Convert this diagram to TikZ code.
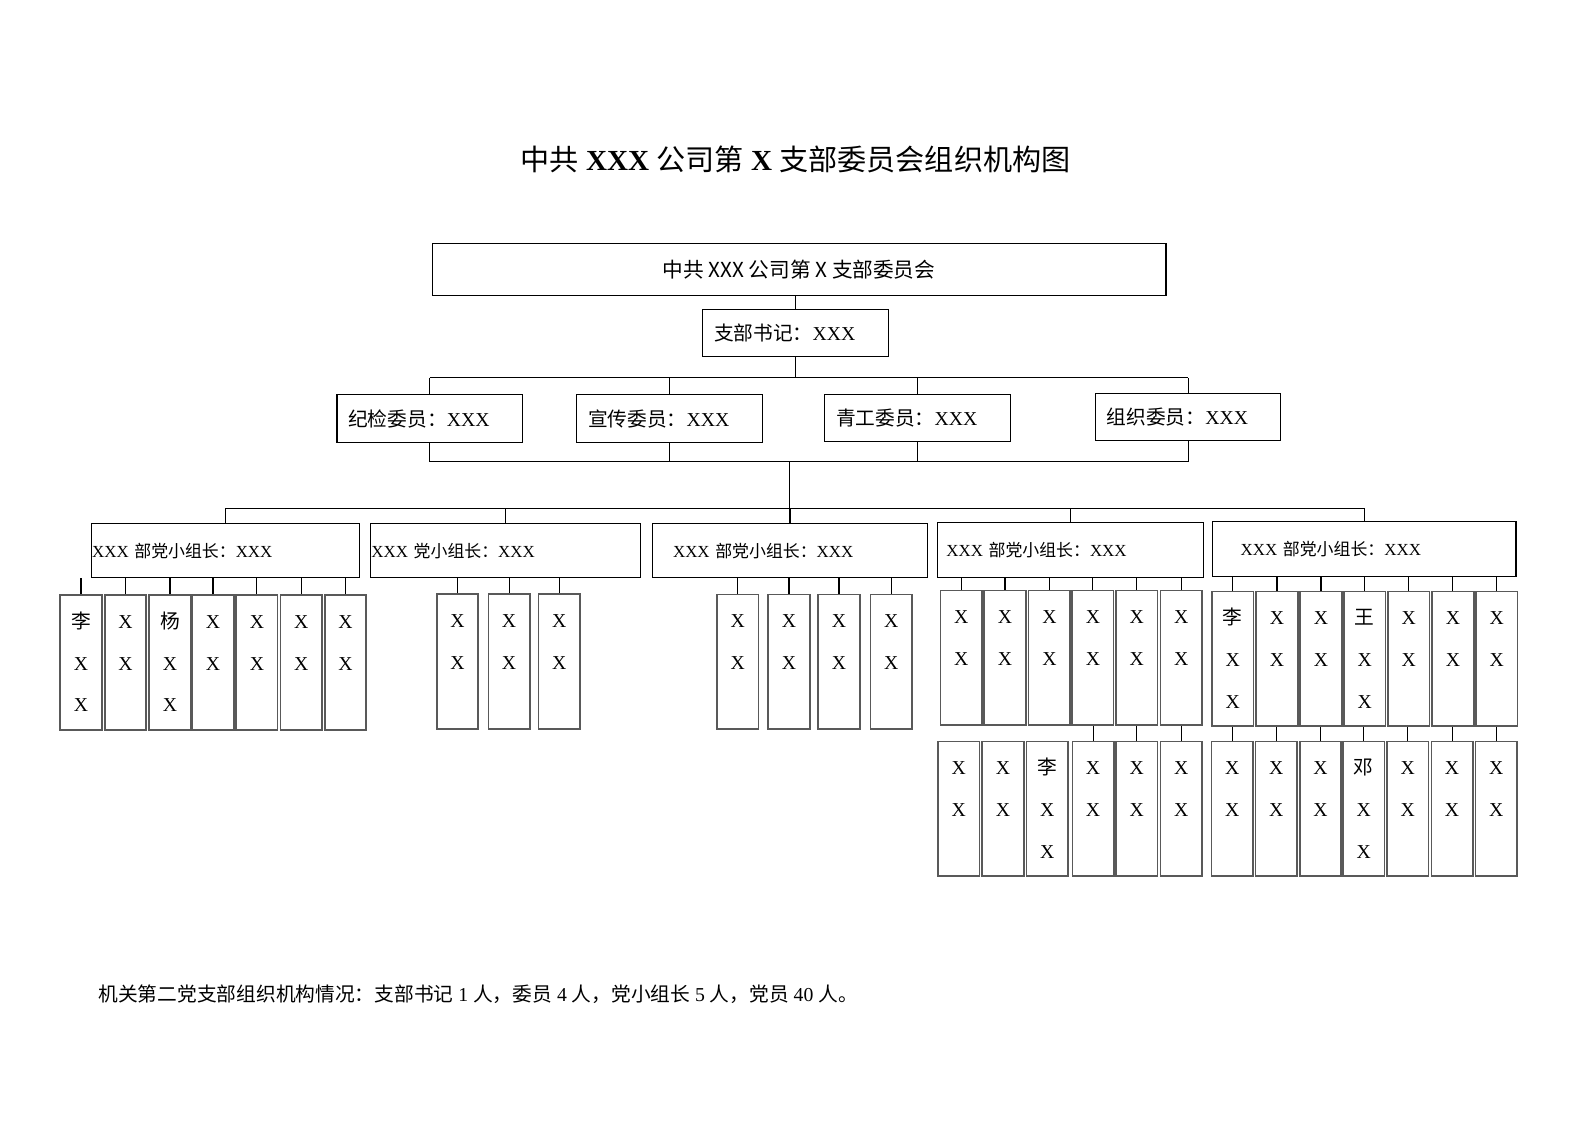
\documentclass[tikz,border=0pt]{standalone}
\usepackage{fontspec}
\setmainfont{Liberation Serif}
\newfontfamily\cjk{Noto Sans CJK SC}
\newcommand{\zh}[1]{{\cjk #1}}
\newcommand{\mtxt}[1]{\parbox[t]{2em}{\centering #1}}
\newlength{\ugrid}
\setlength{\ugrid}{0.5389pt}

\begin{document}
\begin{tikzpicture}[x=\ugrid, y=-\ugrid,
  link/.style={draw=black, line width=0.6pt},
  box/.style={draw=black, line width=0.6pt, inner ysep=0pt},
  post/.style={box, minimum height=47\ugrid, inner xsep=11\ugrid, text width=161\ugrid,
    align=left, font=\fontsize{10.5}{12}\selectfont},
  leader/.style={box, minimum height=54\ugrid, align=left, font=\fontsize{9}{11}\selectfont},
  mem/.style={draw=black!65, line width=0.9pt, minimum width=41\ugrid, minimum height=133\ugrid,
    inner sep=0pt},
  memtxt/.style={anchor=base, inner sep=0pt, font=\fontsize{10.5}{22.3}\selectfont}]
\useasboundingbox (0,0) rectangle (1568,1109);

\node[font=\fontsize{15.5}{18}\selectfont] (title) at (786,158)
  {\zh{中共} \textbf{XXX} \zh{公司第} \textbf{X} \zh{支部委员会组织机构图}};

\node[box, minimum width=725\ugrid, minimum height=51\ugrid, font=\cjk\fontsize{11}{13}\selectfont]
  (party) at (789.5,266.5) {中共 XXX 公司第 X 支部委员会};
\node[post] (sec) at (786,329) {\zh{支部书记：}XXX};

\node[post] (c1) at (424.5,413.5) {\zh{纪检委员：}XXX};
\node[post] (c2) at (661.5,413.5) {\zh{宣传委员：}XXX};
\node[post] (c3) at (906.5,413) {\zh{青工委员：}XXX};
\node[post] (c4) at (1174,412) {\zh{组织委员：}XXX};

\coordinate (up) at (786,373);
\coordinate (down) at (780,456);
\coordinate (low) at (780,502);
\draw[link] (party.south -| sec.north) -- (sec.north);
\draw[link] (sec.south) -- (up);
\draw[link] (c1.north |- up) -- (c4.north |- up);
\draw[link] (c1.south |- down) -- (c4.south |- down);
\foreach \c in {c1,c2,c3,c4}{
  \draw[link] (\c.north) -- (\c.north |- up);
  \draw[link] (\c.south) -- (\c.south |- down);
}
\draw[link] (down) -- (low);

% party groups
\node[leader, inner xsep=1\ugrid, text width=263\ugrid] (la) at (222.5,544) {XXX \zh{部党小组长：}XXX};
\node[leader, inner xsep=1\ugrid, text width=265\ugrid] (lb) at (499.5,544) {XXX \zh{党小组长：}XXX};
\node[leader, inner xsep=20\ugrid, text width=231\ugrid] (lc) at (780.5,544) {XXX \zh{部党小组长：}XXX};
\node[leader, inner xsep=9\ugrid, text width=245\ugrid] (ld) at (1057.5,543.5) {XXX \zh{部党小组长：}XXX};
\node[leader, inner xsep=28\ugrid, text width=244\ugrid] (le) at (1347.8,542.6) {XXX \zh{部党小组长：}XXX};
\draw[link] (la.north |- low) -- (le.north |- low);
\foreach \l in {la,lb,lc,ld,le}
  \draw[link] (\l.north) -- (\l.north |- low);

% members
\foreach \mx/\mt [count=\i] in {80/{\zh{李}\\X\\X},124/{X\\X},168/{\zh{杨}\\X\\X},210.5/{X\\X},
    253.8/{X\\X},297.6/{X\\X},341.4/{X\\X}}{
  \node[mem] (a\i) at (\mx,654.5) {};
  \node[memtxt] (a\i-t) at ([yshift=-33.5\ugrid]a\i.north) {\mtxt{\mt}};
  \draw[link] (a\i.north) -- (a\i.north |- la.south);
}
\foreach \mx/\mt [count=\i] in {452/{X\\X},503/{X\\X},552.5/{X\\X}}{
  \node[mem] (b\i) at (\mx,653.5) {};
  \node[memtxt] (b\i-t) at ([yshift=-33.5\ugrid]b\i.north) {\mtxt{\mt}};
  \draw[link] (b\i.north) -- (b\i.north |- lb.south);
}
\foreach \mx/\mt [count=\i] in {728.8/{X\\X},779.6/{X\\X},828.9/{X\\X},880.5/{X\\X}}{
  \node[mem] (c\i) at (\mx,654) {};
  \node[memtxt] (c\i-t) at ([yshift=-33.5\ugrid]c\i.north) {\mtxt{\mt}};
  \draw[link] (c\i.north) -- (c\i.north |- lc.south);
}
\foreach \mx/\mt [count=\i] in {949.7/{X\\X},993/{X\\X},1036.8/{X\\X},1079.8/{X\\X},1123/{X\\X},1167/{X\\X}}{
  \node[mem] (d\i) at (\mx,650) {};
  \node[memtxt] (d\i-t) at ([yshift=-33.5\ugrid]d\i.north) {\mtxt{\mt}};
  \draw[link] (d\i.north) -- (d\i.north |- ld.south);
}
\foreach \mx/\mt [count=\i] in {947.3/{X\\X},991/{X\\X},1034.7/{\zh{李}\\X\\X},1080/{X\\X},1123/{X\\X},1167/{X\\X}}{
  \node[mem] (dd\i) at (\mx,799) {};
  \node[memtxt] (dd\i-t) at ([yshift=-33.5\ugrid]dd\i.north) {\mtxt{\mt}};
  \ifnum\i>3 \draw[link] (dd\i.north) -- (dd\i.north |- d\i.south); \fi
}
\foreach \mx/\mt [count=\i] in {1218/{\zh{李}\\X\\X},1261.7/{X\\X},1305.2/{X\\X},1348.3/{\zh{王}\\X\\X},
    1391.8/{X\\X},1435.5/{X\\X},1478.7/{X\\X}}{
  \node[mem] (e\i) at (\mx,651) {};
  \node[memtxt] (e\i-t) at ([yshift=-33.5\ugrid]e\i.north) {\mtxt{\mt}};
  \draw[link] (e\i.north) -- (e\i.north |- le.south);
}
\foreach \mx/\mt [count=\i] in {1217.5/{X\\X},1261/{X\\X},1304.6/{X\\X},1347.4/{\zh{邓}\\X\\X},
    1390.9/{X\\X},1434.7/{X\\X},1478.4/{X\\X}}{
  \node[mem] (ee\i) at (\mx,799) {};
  \node[memtxt] (ee\i-t) at ([yshift=-33.5\ugrid]ee\i.north) {\mtxt{\mt}};
  \draw[link] (ee\i.north) -- (ee\i.north |- e\i.south);
}

\node[anchor=west, inner xsep=0pt, font=\fontsize{10.5}{12}\selectfont] (note) at (97,982)
  {\zh{机关第二党支部组织机构情况：支部书记} 1 \zh{人，委员} 4 \zh{人，党小组长} 5 \zh{人，党员} 40 \zh{人。}};
\end{tikzpicture}
\end{document}
